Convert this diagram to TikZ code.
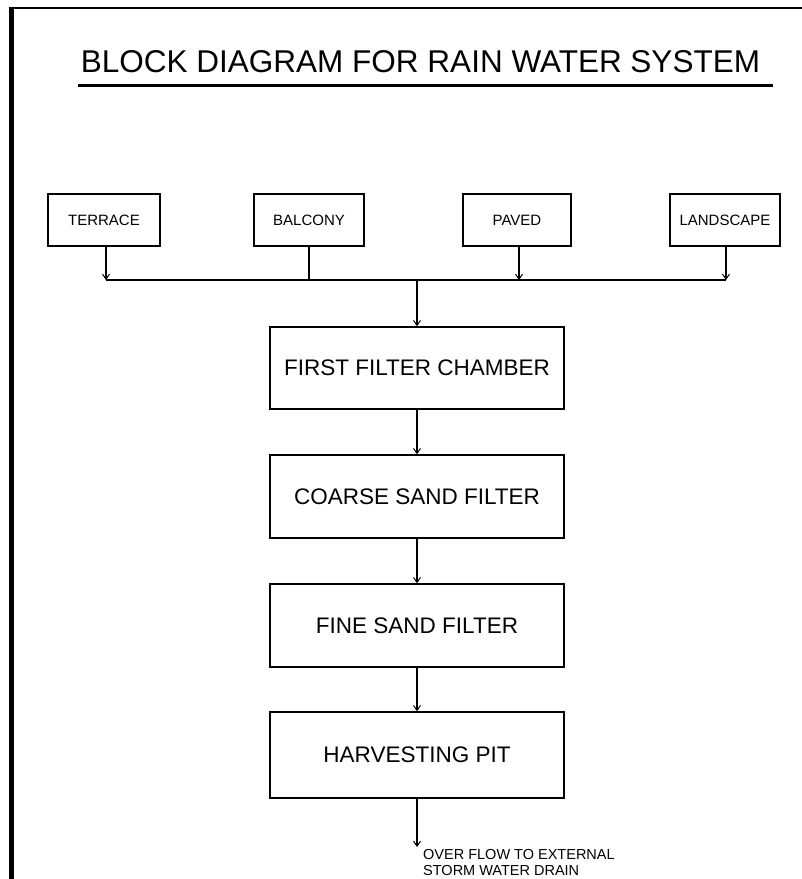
\documentclass[tikz,border=0pt]{standalone}
\usepackage{fontspec}
\setmainfont{Liberation Sans}
\usetikzlibrary{arrows.meta}
\begin{document}
\begin{tikzpicture}[x=1pt,y=-1pt,
  srcbox/.style={draw,line width=1.4pt,minimum height=52pt,inner sep=0pt,font=\fontsize{15}{18}\selectfont},
  stagebox/.style={draw,line width=1.4pt,minimum width=294pt,inner sep=0pt,font=\fontsize{22.5}{27}\selectfont},
  flow/.style={line width=1.4pt},
  flowarrow/.style={line width=1.4pt,-{Straight Barb[length=5pt,width=7pt,line width=1pt]}}
]
\useasboundingbox (0,0) rectangle (802,879);
% frame
\draw[line width=5pt] (11.5,6.5) coordinate (fl1) -- (11.5,879) coordinate (fl2);
\draw[line width=2pt] (9,7.5) coordinate (ft1) -- (802,7.5) coordinate (ft2);
% title
\node[anchor=base,inner sep=0pt,font=\fontsize{31.5}{36}\selectfont] (title) at (420.5,72) {BLOCK DIAGRAM FOR RAIN WATER SYSTEM};
\draw[line width=3pt] (78,85) coordinate (u1) -- (773,85) coordinate (u2);
% source boxes
\node[srcbox,minimum width=112pt] (terrace) at (104,220) {TERRACE};
\node[srcbox,minimum width=110pt] (balcony) at (309,220) {BALCONY};
\node[srcbox,minimum width=108pt] (paved) at (517,220) {PAVED};
\node[srcbox,minimum width=110pt] (landscape) at (725,220) {LANDSCAPE};
% bus
\coordinate (b1) at (106,280);
\coordinate (b2) at (309,280);
\coordinate (b3) at (519,280);
\coordinate (b4) at (726,280);
\coordinate (bc) at (417,280);
\draw[flowarrow] (terrace.south -| b1) -- (b1);
\draw[flow] (balcony.south) -- (b2);
\draw[flowarrow] (paved.south -| b3) -- (b3);
\draw[flowarrow] (landscape.south -| b4) -- (b4);
\draw[flow] (b1) -- (b4);
% stages
\node[stagebox,minimum height=82pt] (first) at (417,368) {FIRST FILTER CHAMBER};
\node[stagebox,minimum height=83pt] (coarse) at (417,496.5) {COARSE SAND FILTER};
\node[stagebox,minimum height=83pt] (fine) at (417,625.5) {FINE SAND FILTER};
\node[stagebox,minimum height=86pt] (harvest) at (417,755) {HARVESTING PIT};
\draw[flowarrow] (bc) -- (first.north);
\draw[flowarrow] (first.south) -- (coarse.north);
\draw[flowarrow] (coarse.south) -- (fine.north);
\draw[flowarrow] (fine.south) -- (harvest.north);
% overflow
\coordinate (ov) at (417,847);
\draw[flowarrow] (harvest.south) -- (ov);
\node[anchor=north west,align=left,inner sep=0pt,font=\fontsize{14.5}{16}\selectfont] (ovtext) at (423,849) {OVER FLOW TO EXTERNAL\\STORM WATER DRAIN};
\end{tikzpicture}
\end{document}
